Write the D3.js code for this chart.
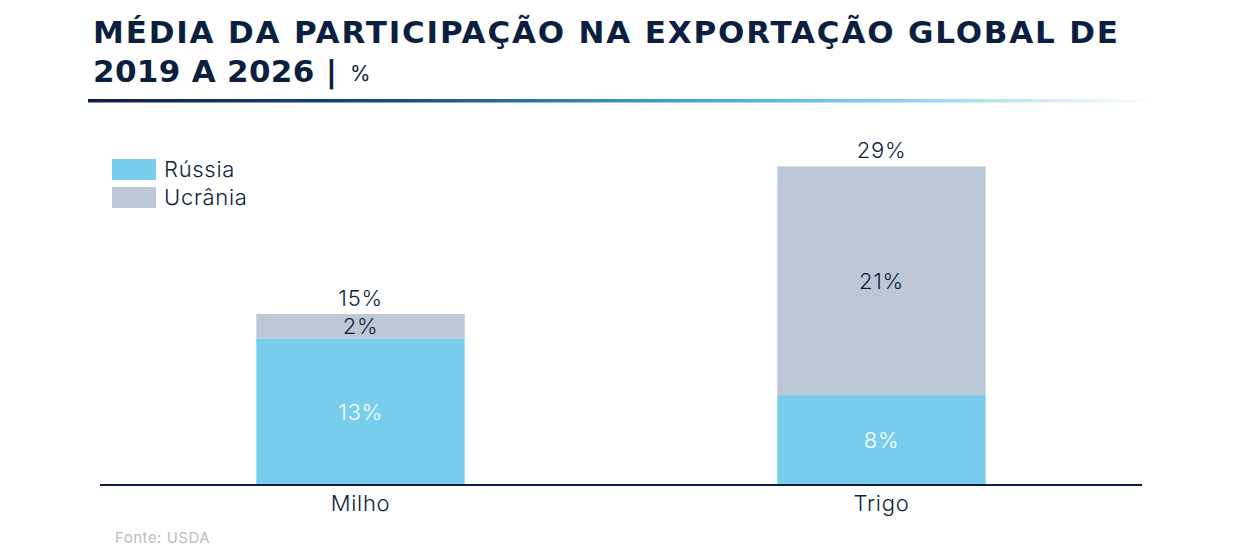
<!DOCTYPE html>
<html><head><meta charset="utf-8">
<script src="https://cdn.jsdelivr.net/npm/d3@7"></script>
<style>
html,body{margin:0;padding:0;background:#fff;}
svg{display:block;}
</style></head>
<body>
<svg id="chart" width="1240" height="558"></svg>
<script>
const categories = ["Milho", "Trigo"];
const seriesNames = ["Rússia", "Ucrânia"];
const russia = [13.2, 8.1];
const ukraine = [2.2, 20.6];
const titleLine1 = "MÉDIA DA PARTICIPAÇÃO NA EXPORTAÇÃO GLOBAL DE";
const titleLine2 = "2019 A 2026 |";
const titleUnit = "%";
const source = "Fonte: USDA";

const navy = "#0d1f40";
const colors = ["#79cdec", "#bcc8d6"];
const labelColors = ["#ffffff", navy];

const svg = d3.select("#chart");
const baseY = 485, topY = 152;
const titleFont = "'DejaVu Sans', Inter, sans-serif";

// Title line 1, letter-spacing fitted to width
const t1 = svg.append("text").attr("x", 93).attr("y", 43)
  .attr("font-family", titleFont).attr("font-weight", 700)
  .attr("font-size", 31).attr("fill", navy).text(titleLine1);
const len0 = t1.node().getComputedTextLength();
t1.attr("letter-spacing", (1025 - len0) / (titleLine1.length - 1));

// Title line 2
const t2 = svg.append("text").attr("x", 93).attr("y", 82)
  .attr("font-family", titleFont).attr("font-weight", 700)
  .attr("font-size", 31).attr("fill", navy).text(titleLine2);
const len2 = t2.node().getComputedTextLength();
t2.attr("letter-spacing", (244 - len2) / (titleLine2.length - 1));
svg.append("text").attr("x", 350).attr("y", 81)
  .attr("font-family", "Inter, sans-serif").attr("font-size", 21).attr("font-weight", 400)
  .attr("fill", navy).text(titleUnit);

// Gradient rule
const defs = svg.append("defs");
const grad = defs.append("linearGradient").attr("id", "rule").attr("x1", "0%").attr("x2", "100%");
grad.append("stop").attr("offset", "0%").attr("stop-color", "#0d1f40");
grad.append("stop").attr("offset", "30%").attr("stop-color", "#1d4f72");
grad.append("stop").attr("offset", "60%").attr("stop-color", "#45b3d6");
grad.append("stop").attr("offset", "100%").attr("stop-color", "#ffffff");
svg.append("rect").attr("x", 88).attr("y", 99).attr("width", 1067).attr("height", 3.5).attr("fill", "url(#rule)");

// Scales
const x = d3.scaleBand().domain(categories).range([100, 1142]).paddingInner(0.6).paddingOuter(0.3);
const y = d3.scaleLinear().domain([0, 30]).range([baseY, topY]);

const table = categories.map((c, i) => ({cat: c, "Rússia": russia[i], "Ucrânia": ukraine[i]}));
const stack = d3.stack().keys(seriesNames)(table);

const fmt = v => d3.format(".0f")(v) + "%";
const labelFont = "Inter, 'DejaVu Sans', sans-serif";
const fs = 22, lsp = 0.7;

stack.forEach((layer, li) => {
  const g = svg.append("g");
  g.selectAll("rect").data(layer).join("rect")
    .attr("x", d => x(d.data.cat))
    .attr("width", x.bandwidth())
    .attr("y", d => y(d[1]))
    .attr("height", d => y(d[0]) - y(d[1]))
    .attr("fill", colors[li]);
  g.selectAll("text").data(layer).join("text")
    .attr("x", d => x(d.data.cat) + x.bandwidth() / 2)
    .attr("y", d => (y(d[0]) + y(d[1])) / 2)
    .attr("dy", "0.36em")
    .attr("text-anchor", "middle")
    .attr("font-family", labelFont).attr("font-weight", 300)
    .attr("font-size", fs).attr("letter-spacing", lsp).attr("fill", labelColors[li])
    .text(d => fmt(d[1] - d[0]));
});

// totals
svg.append("g").selectAll("text").data(table).join("text")
  .attr("x", d => x(d.cat) + x.bandwidth() / 2)
  .attr("y", d => y(d["Rússia"] + d["Ucrânia"]) - 8)
  .attr("text-anchor", "middle")
  .attr("font-family", labelFont).attr("font-weight", 300)
  .attr("font-size", fs).attr("letter-spacing", lsp).attr("fill", navy)
  .text(d => fmt(d["Rússia"] + d["Ucrânia"]));

// axis
const axis = svg.append("g").attr("transform", `translate(0,${baseY})`)
  .call(d3.axisBottom(x).tickSize(0).tickPadding(10));
axis.select(".domain").attr("stroke", navy).attr("stroke-width", 2).attr("d", "M100,0H1142");
axis.selectAll(".tick text").attr("font-family", labelFont).attr("font-weight", 300)
  .attr("font-size", fs).attr("letter-spacing", lsp).attr("fill", navy).attr("dy", "0.71em");

// legend
const leg = svg.append("g").attr("transform", "translate(112,159)");
seriesNames.forEach((n, i) => {
  leg.append("rect").attr("x", 0).attr("y", i * 28).attr("width", 44).attr("height", 21).attr("fill", colors[i]);
  leg.append("text").attr("x", 52).attr("y", i * 28 + 10.5).attr("dy", "0.36em")
    .attr("font-family", labelFont).attr("font-weight", 300).attr("font-size", fs)
    .attr("letter-spacing", lsp).attr("fill", navy).text(n);
});

// source
svg.append("text").attr("x", 115).attr("y", 543)
  .attr("font-family", labelFont).attr("font-size", 15).attr("letter-spacing", 0.5)
  .attr("fill", "#bdbdbd").text(source);
</script>
</body></html>
